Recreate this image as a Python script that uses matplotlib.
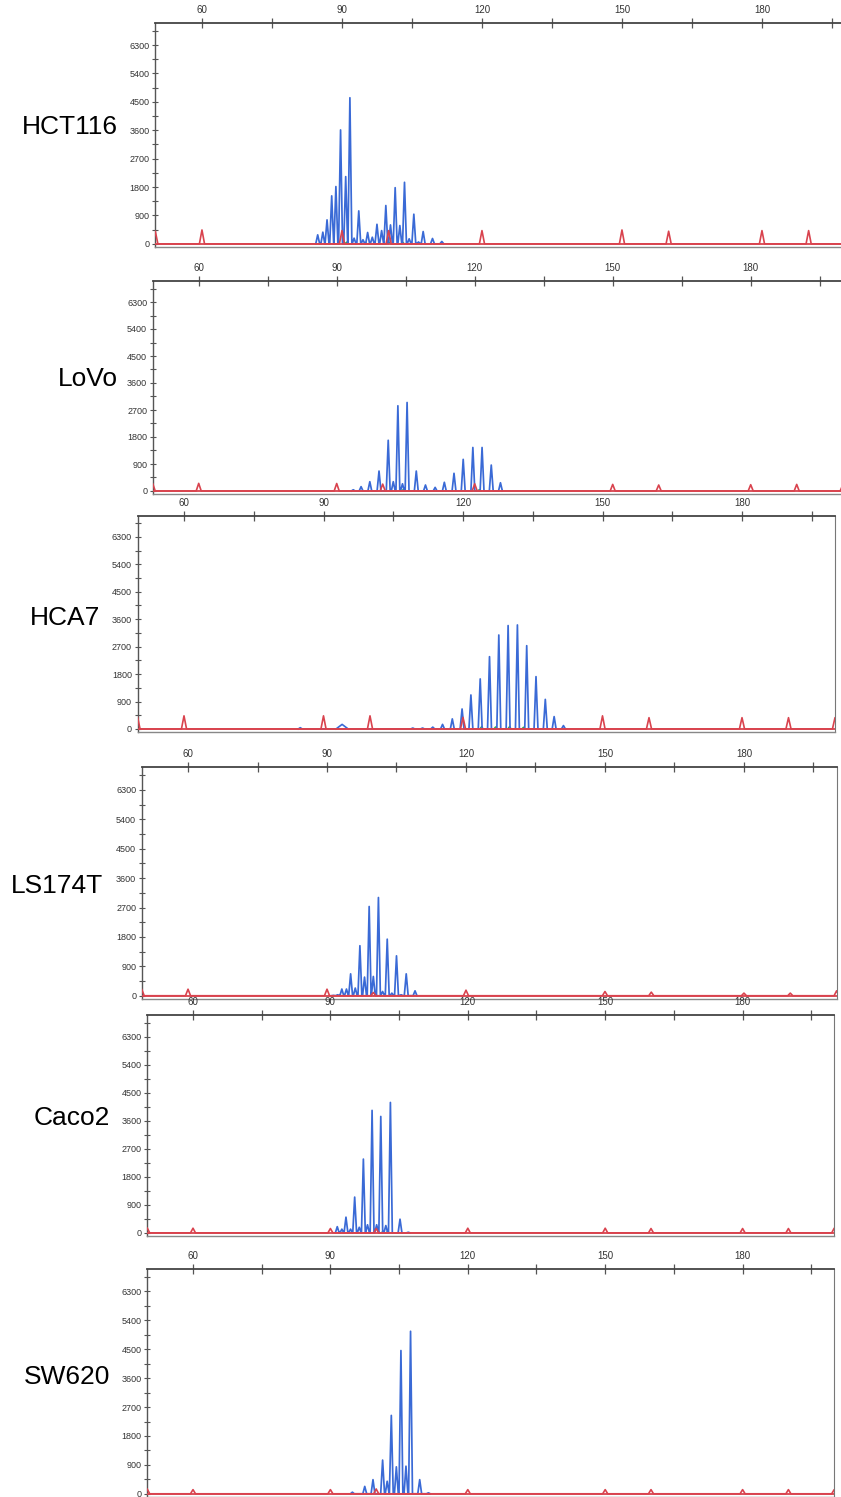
import matplotlib.pyplot as plt

# cell lines, top to bottom
names = ["HCT116", "LoVo", "HCA7", "LS174T", "Caco2", "SW620"]

# size standard (red) positions in bp
std_pos = [50, 60, 90, 100, 120, 150, 160, 180, 190, 200]

# blue peaks: fragment size (bp) and height (RFU)
hct116_pos = [84.8, 85.9, 86.8, 87.8, 88.7, 89.7, 90.8, 91.7, 92.6, 93.6, 94.5, 95.5, 96.5,
              97.5, 98.5, 99.4, 100.4, 101.4, 102.4, 103.4, 104.4, 105.4, 106.4, 107.4, 109.4, 111.4]
hct116_h = [285, 370, 760, 1520, 1815, 3610, 2130, 4630, 180, 1045, 130, 360, 210,
            620, 420, 1215, 600, 1780, 580, 1950, 160, 940, 60, 390, 170, 75]
hct116_std = [400, 440, 420, 420, 420, 440, 400, 420, 420, 420]

lovo_pos = [93.6, 95.3, 97.2, 99.2, 101.2, 102.3, 103.3, 104.3, 105.3, 107.3, 109.3, 111.4,
            113.4, 115.5, 117.5, 119.6, 121.6, 123.6, 125.6]
lovo_h = [40, 145, 310, 665, 1690, 310, 2840, 240, 2950, 665, 200, 120,
          290, 590, 1055, 1450, 1450, 865, 275]
lovo_std = [250, 255, 250, 230, 240, 220, 200, 210, 220, 200]

hca7_pos = [85.0, 109.2, 111.3, 113.5, 115.6, 117.7, 119.8, 121.7, 123.7, 125.7, 127.7,
            129.7, 131.7, 133.7, 135.7, 137.7, 139.6, 141.6]
hca7_h = [40, 30, 30, 60, 150, 330, 655, 1115, 1640, 2370, 3080,
          3390, 3410, 2730, 1715, 970, 405, 110]
hca7_hump = [94.0, 150]
hca7_std = [400, 430, 430, 430, 380, 430, 370, 370, 370, 370]

ls174t_pos = [91.4, 92.3, 93.2, 94.2, 95.1, 96.1, 97.1, 98.1, 99.1, 100.0, 101.1, 102.0,
              103.0, 104.0, 105.0, 106.0, 107.1, 109.0]
ls174t_h = [10, 30, 205, 205, 670, 235, 1530, 570, 2730, 590, 3005, 130,
            1730, 80, 1220, 30, 670, 150]
ls174t_std = [200, 200, 200, 100, 170, 130, 110, 80, 80, 150]

caco2_pos = [91.5, 92.5, 93.4, 94.4, 95.3, 96.3, 97.2, 98.1, 99.1, 100.1, 101.0, 102.1,
             103.1, 105.2, 107.0]
caco2_h = [200, 120, 505, 120, 1150, 180, 2370, 260, 3935, 260, 3740, 235, 4190, 440, 20]
caco2_std = [160, 150, 140, 140, 150, 150, 140, 140, 140, 150]

sw620_pos = [94.8, 97.5, 99.3, 101.4, 102.4, 103.3, 104.4, 105.4, 106.5, 107.5, 109.5, 111.4]
sw620_h = [50, 230, 440, 1050, 390, 2440, 840, 4460, 860, 5060, 440, 30]
sw620_std = [150, 130, 130, 150, 130, 130, 130, 130, 130, 130]

# small green traces
green_pos = [[91.0, 95.0, 100.0, 103.0], [104.5, 121.0], [124.0, 127.0, 130.0, 133.0],
             [100.5], [101.5, 102.5], [106.0]]
green_h = [[60, 50, 70, 60], [60, 50], [80, 70, 80, 60], [40], [60, 50], [40]]

blue = [(hct116_pos, hct116_h), (lovo_pos, lovo_h), (hca7_pos, hca7_h),
        (ls174t_pos, ls174t_h), (caco2_pos, caco2_h), (sw620_pos, sw620_h)]
std_h = [hct116_std, lovo_std, hca7_std, ls174t_std, caco2_std, sw620_std]

# panel geometry in pixels: x at 50 bp, x at 200 bp, y at 7000, y at -100
boxes = [(155.3, 855.3, 23, 247), (152.7, 842.7, 281, 494), (137.5, 835, 515.5, 732),
         (141.7, 836.6, 767, 999), (147.2, 834.2, 1015, 1236), (147.2, 834.2, 1269, 1497)]
label_x = [118, 118, 100, 103, 110, 110]
label_y = [127, 379, 618, 886, 1118, 1377]

W, H = 841, 1497
BLUE = '#3a6ad6'
RED = '#d9434e'


def trace(ax, pos, hts, color, hw, lw, z):
    xs, ys = [], []
    for p, h in sorted(zip(pos, hts)):
        xs += [p - hw, p, p + hw]
        ys += [0, h, 0]
    ax.plot(xs, ys, color=color, lw=lw, solid_joinstyle='round', zorder=z)


fig = plt.figure(figsize=(W / 100, H / 100), dpi=100)

for i, name in enumerate(names):
    x0, x1, yt, yb = boxes[i]
    ax = fig.add_axes([x0 / W, 1 - yb / H, (x1 - x0) / W, (yb - yt) / H])
    ax.set_xlim(50, 200)
    ax.set_ylim(-100, 7000)

    trace(ax, green_pos[i], green_h[i], '#3aa845', 0.4, 0.9, 2)
    if name == "HCA7":
        trace(ax, [hca7_hump[0]], [hca7_hump[1]], BLUE, 1.3, 1.2, 2)
    trace(ax, blue[i][0], blue[i][1], BLUE, 0.42, 1.25, 2)
    ax.axhline(0, color=RED, lw=1.3, zorder=3)
    trace(ax, std_pos, std_h[i], RED, 0.55, 1.2, 3)

    ax.xaxis.tick_top()
    ax.set_xticks([60, 90, 120, 150, 180])
    ax.set_xticks([75, 105, 135, 165, 195], minor=True)
    ax.set_yticks(range(0, 6301, 900))
    ax.set_yticks(range(450, 6751, 900), minor=True)
    ax.tick_params(axis='x', which='both', direction='inout', length=7, width=0.9,
                   color='#555555', labelsize=7, labelcolor='#333333', pad=2)
    ax.tick_params(axis='y', which='both', direction='inout', length=5, width=0.8,
                   color='#555555', labelsize=6.5, labelcolor='#333333', pad=1.5)
    for lab in ax.get_xticklabels() + ax.get_yticklabels():
        lab.set_family('Liberation Sans')

    ax.spines['top'].set_color('#444444')
    ax.spines['top'].set_linewidth(1.3)
    ax.spines['left'].set_color('#555555')
    ax.spines['left'].set_linewidth(1.0)
    ax.spines['right'].set_color('#777777')
    ax.spines['right'].set_linewidth(0.8)
    ax.spines['bottom'].set_color('#888888')
    ax.spines['bottom'].set_linewidth(1.0)

    fig.text(label_x[i] / W, 1 - label_y[i] / H, name, ha='right', va='center',
             fontsize=19, family='Liberation Sans')

plt.savefig('out.png', dpi=100)
